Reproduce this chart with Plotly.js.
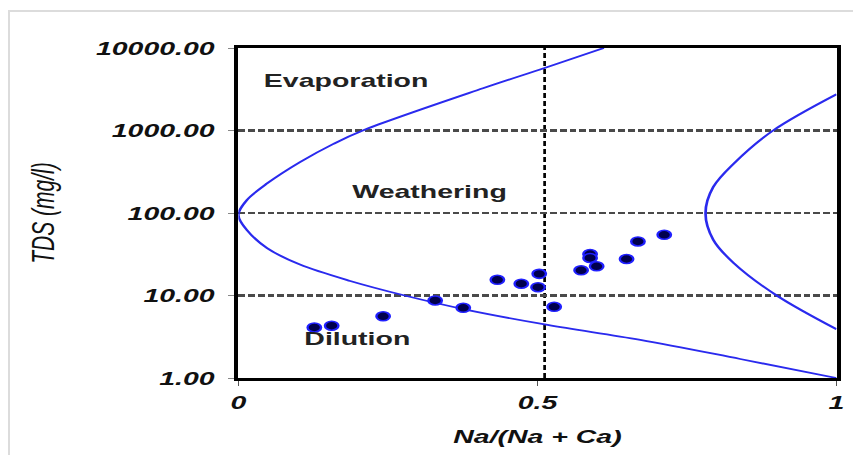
<!DOCTYPE html>
<html>
<head>
<meta charset="utf-8">
<script src="https://cdn.plot.ly/plotly-3.0.1.min.js"></script>
<style>
html,body{margin:0;padding:0;background:#fff;overflow:hidden;width:853px;height:455px;}
#frame{position:absolute;left:8px;top:10px;width:900px;height:500px;border-left:2px solid #dcdcdc;border-top:2px solid #dcdcdc;}
#wrap{position:absolute;left:0;top:0;width:569px;height:455px;transform:scaleX(1.49912);transform-origin:0 0;}
</style>
</head>
<body>
<div id="frame"></div>
<div id="wrap"><div id="chart"></div></div>
<script>
// Sample points
const naRatio = [0.127,0.156,0.242,0.329,0.376,0.433,0.473,0.501,0.503,0.528,0.573,0.588,0.588,0.599,0.649,0.668,0.712];
const tdsValues = [4.1,4.3,5.6,8.7,7.1,15.5,13.9,12.6,18.3,7.3,20.2,31.8,28.5,22.6,27.7,45.2,54.4];

// Gibbs boundary curves
const leftCurveX = [0.611,0.512,0.409,0.208,0.159,0.103,0.048,0.014,0.0,0.014,0.048,0.103,0.187,0.278,0.378,0.517,0.672,0.839,1.0];
const leftCurveTDS = [10000,5730,3250,1000,689,414,228,143,95,62.5,37.6,23.7,15.0,10,6.8,4.4,2.9,1.7,1.0];
const rightCurveX = [1.0,0.894,0.828,0.794,0.781,0.794,0.828,0.9,1.0];
const rightCurveTDS = [2750,1000,396,207,99,47.3,24.8,10,3.9];

// Axis ticks
const xTickVals = [0,0.5,1];
const xTickText = ['0','0.5','1'];
const yTickVals = [1,10,100,1000,10000];
const yTickText = ['1.00','10.00','100.00','1000.00','10000.00'];

// Region labels
const regionLabels = ['Evaporation','Weathering','Dilution'];
const regionX = [0.038,0.186,0.104];
const regionTDS = [4055,180,3.0];

// Reference divider line position (as drawn in the picture)
const dividerX = 0.512;

const curveLine = {color:'#2a2aee', width:1.8, shape:'spline', smoothing:1};

const traces = [
  {x:leftCurveX, y:leftCurveTDS, type:'scatter', mode:'lines', line:curveLine, hoverinfo:'skip'},
  {x:rightCurveX, y:rightCurveTDS, type:'scatter', mode:'lines', line:curveLine, hoverinfo:'skip'},
  {x:naRatio, y:tdsValues, type:'scatter', mode:'markers', cliponaxis:false,
   marker:{size:9, color:'#00004d', line:{color:'#2020ff', width:1.6}}}
];

const tickFont = {family:'Liberation Sans, Arial, sans-serif', size:19, color:'#111', weight:'bold', style:'italic'};

const layout = {
  width:569, height:455,
  margin:{l:158.5, r:11.3, t:48, b:77},
  paper_bgcolor:'rgba(0,0,0,0)', plot_bgcolor:'#fff',
  showlegend:false,
  xaxis:{
    range:[0,1], tickvals:xTickVals, ticktext:xTickText,
    showgrid:false, zeroline:false,
    showline:true, linecolor:'#000', linewidth:3, mirror:true,
    ticks:'outside', ticklen:5, tickcolor:'#555', tickwidth:1,
    tickfont:tickFont,
    title:{text:'Na/(Na + Ca)', font:tickFont, standoff:18}
  },
  yaxis:{
    type:'log', range:[0,4], tickvals:yTickVals, ticktext:yTickText,
    showgrid:true, gridcolor:'#4a4a4a', gridwidth:2.2, griddash:'4.5px,2px',
    zeroline:false,
    showline:true, linecolor:'#000', linewidth:3, mirror:true,
    ticks:'outside', ticklen:4, tickcolor:'#888', tickwidth:1,
    ticklabelstandoff:5,
    tickfont:tickFont,
    title:{text:'TDS (mg/l)', font:{family:'Liberation Sans, Arial, sans-serif', size:21, color:'#111', style:'italic'}, standoff:22}
  },
  shapes:[
    {type:'line', xref:'x', yref:'paper', x0:dividerX, x1:dividerX, y0:0, y1:1,
     line:{color:'#000', width:1.8, dash:'5px,3px'}, layer:'below'}
  ],
  annotations: regionLabels.map((t,i)=>({
    text:t, x:regionX[i], y:Math.log10(regionTDS[i]), xref:'x', yref:'y',
    xanchor:'left', yanchor:'middle', showarrow:false,
    font:{family:'Liberation Sans, Arial, sans-serif', size:19, color:'#222', weight:'bold'}
  }))
};

Plotly.newPlot('chart', traces, layout, {displayModeBar:false, staticPlot:true});
</script>
</body>
</html>
